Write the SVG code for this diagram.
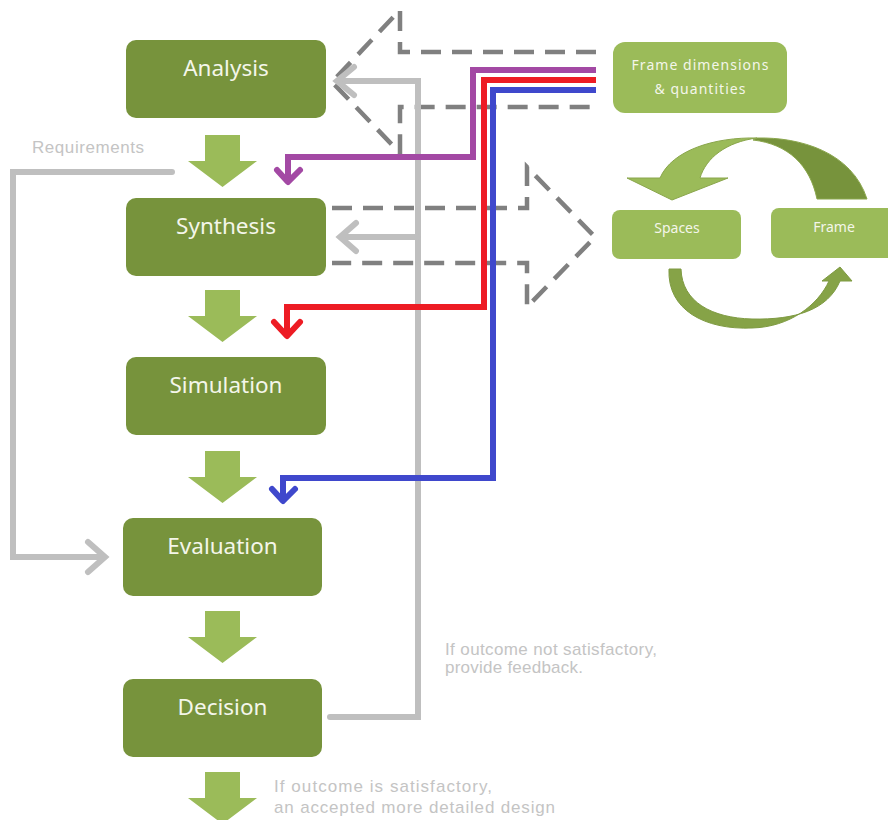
<svg xmlns="http://www.w3.org/2000/svg" xmlns:xlink="http://www.w3.org/1999/xlink" width="888" height="820" viewBox="0 0 888 820">
  <style>
    .step rect { fill: #77933C; }
    .step text { font-family: "Noto Sans", "Open Sans", sans-serif; font-size: 22.5px; fill: #F4F6EA; text-anchor: middle; }
    .side rect { fill: #9BBB59; }
    .side text { font-family: "Noto Sans", "Open Sans", sans-serif; font-size: 14px; fill: #F4F6EA; text-anchor: middle; }
    .note { font-family: "Liberation Sans", Arial, sans-serif; font-size: 17px; fill: #C4C4C4; }
    .flow { fill: #9BBB59; }
    .solid { fill: none; stroke: #BFBFBF; stroke-width: 6; stroke-linecap: round; stroke-linejoin: miter; }
    .dash { fill: none; stroke: #808080; stroke-width: 4.5; stroke-dasharray: 20 11; }
    .feed { fill: none; stroke-width: 6; stroke-linejoin: miter; }
    .feed.tip { stroke-linecap: round; stroke-linejoin: round; }
    .purple { stroke: #A349A4; }
    .red { stroke: #ED1C24; }
    .blue { stroke: #3F48CC; }
  </style>
  <defs>
    <!-- block arrow between consecutive steps -->
    <polygon id="down" points="205,0 240,0 240,26 257,26 222.5,52 188,26 205,26"/>
  </defs>

  <rect width="888" height="820" fill="#FFFFFF"/>

  <!-- flow arrows between steps -->
  <g id="flow-arrows" class="flow">
    <use xlink:href="#down" href="#down" transform="translate(0,135)"/>
    <use xlink:href="#down" href="#down" transform="translate(0,290)"/>
    <use xlink:href="#down" href="#down" transform="translate(0,451)"/>
    <use xlink:href="#down" href="#down" transform="translate(0,611)"/>
    <use xlink:href="#down" href="#down" transform="translate(0,772)"/>
  </g>

  <g id="connectors">
    <!-- dashed hollow arrows -->
    <polyline class="dash" points="596,52 400,52 400,10 332,82 400,153 400,107 596,107"/>
    <polyline class="dash" points="332,208 527,208 527,167 595,237 527,307 527,263 332,263"/>

    <!-- feedback loop from Decision -->
    <path class="solid" d="M330,717 H418 V81 H338"/>
    <path class="solid" d="M354,67 L337,81 L354,95" stroke-linejoin="round"/>
    <path class="solid" d="M418,237 H341"/>
    <path class="solid" d="M356,223 L340,237 L356,251" stroke-linejoin="round"/>

    <!-- requirements into Evaluation -->
    <path class="solid" d="M172,172 H13 V557 H104"/>
    <path class="solid" d="M88,542 L105,557 L88,572" stroke-linejoin="round"/>

    <!-- frame dimensions & quantities feeds -->
    <path class="feed purple" d="M596,70 H473 V157 H288 V181"/>
    <path class="feed tip purple" d="M277,170 L288,182 L300,170"/>
    <path class="feed red" d="M596,80 H484 V307 H287 V334"/>
    <path class="feed tip red" d="M274,322 L287,336 L300,322"/>
    <path class="feed blue" d="M596,90 H493 V478 H283 V499"/>
    <path class="feed tip blue" d="M272,489 L283,501 L295,489"/>

    <!-- Spaces / Frame cycle -->
    <path fill="#77933C" stroke="#8AA64C" stroke-width="1" d="M757,138 C800,137 852,152 867,199 L817,199 C810,165 788,144 753,140 Z"/>
    <path fill="#9BBB59" stroke="#8AA64C" stroke-width="1" d="M757,138 C715,137 672,150 660,178 L627,178 L672,200 L728,178 L700,178 C706,158 726,142 757,138 Z"/>
    <path fill="#86A347" stroke="#7E9A42" stroke-width="1" d="M669,269 C667,310 705,330 752,328 C790,327 818,305 829,281 L822,281 L840,267 L852,281 L840,281 C828,310 795,320 752,319 C712,318 682,302 681,269 Z"/>
  </g>

  <!-- process steps -->
  <g id="analysis" class="step">
    <rect x="126" y="40" width="200" height="78" rx="10"/>
    <text x="226" y="76">Analysis</text>
  </g>
  <g id="synthesis" class="step">
    <rect x="126" y="198" width="200" height="78" rx="10"/>
    <text x="226" y="234">Synthesis</text>
  </g>
  <g id="simulation" class="step">
    <rect x="126" y="357" width="200" height="78" rx="10"/>
    <text x="226" y="393">Simulation</text>
  </g>
  <g id="evaluation" class="step">
    <rect x="123" y="518" width="199" height="78" rx="10"/>
    <text x="222.5" y="554">Evaluation</text>
  </g>
  <g id="decision" class="step">
    <rect x="123" y="679" width="199" height="78" rx="10"/>
    <text x="222.5" y="715">Decision</text>
  </g>

  <!-- inputs -->
  <g id="frame-dimensions" class="side">
    <rect x="613" y="42" width="174" height="71" rx="12"/>
    <text x="700" y="70" textLength="137" lengthAdjust="spacing">Frame dimensions</text>
    <text x="700" y="94" textLength="91" lengthAdjust="spacing">&amp; quantities</text>
  </g>
  <g id="spaces" class="side">
    <rect x="612" y="210" width="129" height="49" rx="8"/>
    <text x="677" y="233">Spaces</text>
  </g>
  <g id="frame" class="side">
    <rect x="771" y="208" width="127" height="50" rx="8"/>
    <text x="834" y="232">Frame</text>
  </g>

  <!-- annotations -->
  <g id="notes">
    <text class="note" x="32" y="153" textLength="112" lengthAdjust="spacing">Requirements</text>
    <text class="note" x="445" y="655" textLength="212" lengthAdjust="spacing">If outcome not satisfactory,</text>
    <text class="note" x="445" y="673" textLength="138" lengthAdjust="spacing">provide feedback.</text>
    <text class="note" x="274" y="792" textLength="218" lengthAdjust="spacing">If outcome is satisfactory,</text>
    <text class="note" x="274" y="813" textLength="281" lengthAdjust="spacing">an accepted more detailed design</text>
  </g>
</svg>
